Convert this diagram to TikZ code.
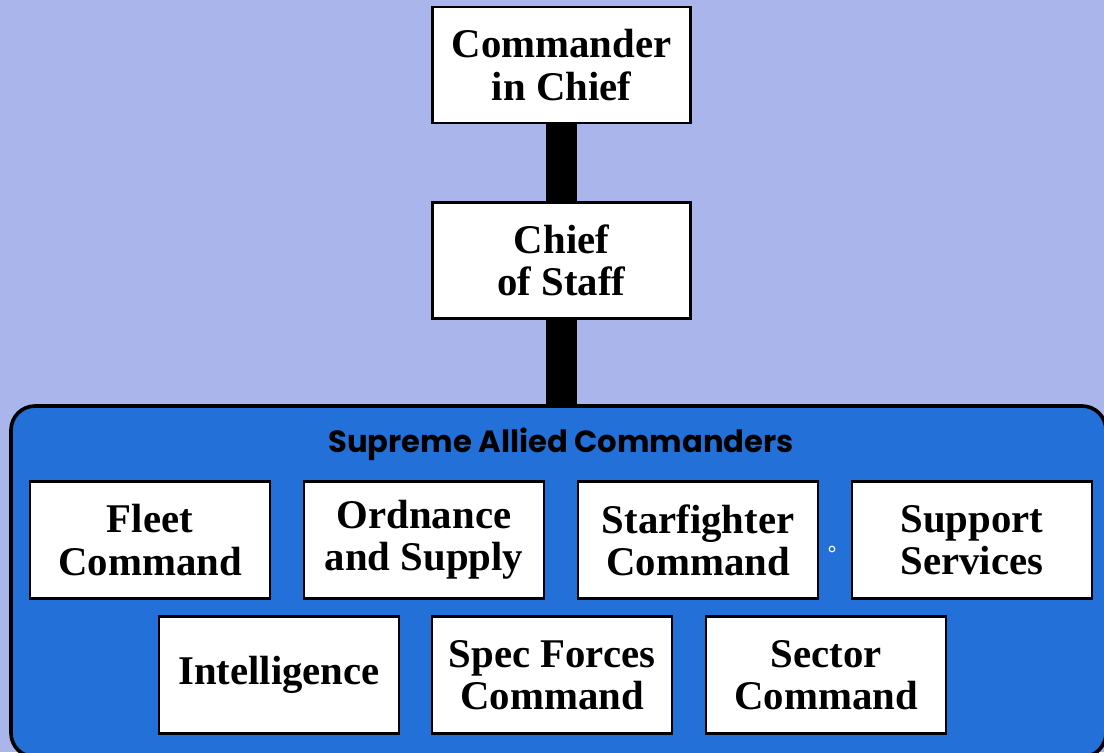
\documentclass[tikz,border=0pt]{standalone}
\usepackage{fontspec}
\setmainfont{Liberation Serif}
\newfontfamily\titlefont{Poppins}
\definecolor{skyback}{RGB}{170,181,236}
\definecolor{panelblue}{RGB}{34,112,216}

\begin{document}
\begin{tikzpicture}[x=0.025cm, y=-0.025cm,
		post/.style={draw=black, fill=white, line width=1.6pt, minimum width=6cm, minimum height=2.925cm, align=center, inner sep=0pt, font=\fontsize{29}{30}\selectfont\bfseries},
		toppost/.style={post, minimum width=6.45cm, minimum height=2.9cm},
		chainbar/.style={black, line width=0.78cm}]
		%%%%% START %%%%%
		
		\useasboundingbox (0, 0) rectangle (1104, 752);
		\clip (0, 0) rectangle (1104, 752);
		\fill[skyback] (0, 0) rectangle (1104, 752);
		
		% command panel
		\draw[fill=panelblue, line width=2.6pt, rounded corners=0.6cm] (11, 406) rectangle (1106, 757);
		\coordinate (panelTop) at (561.5, 406);
		\node (sacTitle) at (561, 444) {\titlefont\bfseries\fontsize{21.8}{24}\selectfont Supreme Allied Commanders};
		
		\node[toppost] (cinc) at (561.5, 65) {Commander\\in Chief};
		\node[toppost] (staff) at (561.5, 260.5) {Chief\\of Staff};
		
		\draw[chainbar] (cinc.south) -- (staff.north);
		\draw[chainbar] (staff.south) -- (panelTop);
		
		\node[post] (fleet) at (150, 540) {Fleet\\Command};
		\node[post] (ordnance) at (424, 540) {Ordnance\\and Supply};
		\node[post] (starfighter) at (698, 540) {Starfighter\\Command};
		\node[post] (support) at (972, 540) {Support\\Services};
		
		\node[post] (intel) at (279, 675) {Intelligence};
		\node[post] (specforces) at (552, 675) {Spec Forces\\Command};
		\node[post] (sector) at (826, 675) {Sector\\Command};
		
		\draw[white, line width=0.8pt] (832, 549) circle (0.07cm);
		
		%%%%% END %%%%%
\end{tikzpicture}
\end{document}
